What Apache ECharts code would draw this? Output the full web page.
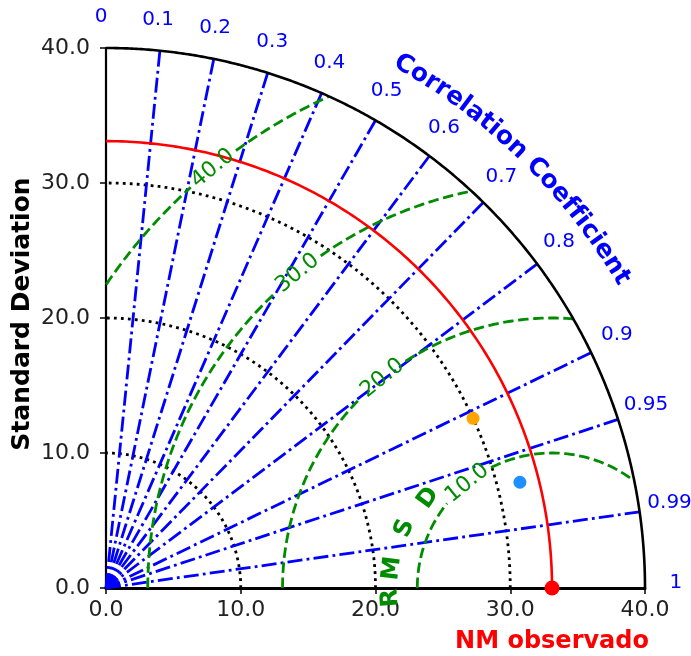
<!DOCTYPE html>
<html><head><meta charset="utf-8">
<script src="https://cdn.jsdelivr.net/npm/echarts@6/dist/echarts.min.js"></script>
<style>html,body{margin:0;padding:0;background:#fff}#c{width:691px;height:656px}</style>
</head><body><div id="c"></div>
<script>
// ---- data ----
const stdTicks = [0, 10, 20, 30, 40];
const stdMax = 40;
const stdArcs = [10, 20, 30];
const refStd = 33.1;
const refName = 'NM observado';
const corrLines = [0.1, 0.2, 0.3, 0.4, 0.5, 0.6, 0.7, 0.8, 0.9, 0.95, 0.99];
const corrLabelValues = [0, 0.1, 0.2, 0.3, 0.4, 0.5, 0.6, 0.7, 0.8, 0.9, 0.95, 0.99, 1];
const corrLabelTexts = ['0', '0.1', '0.2', '0.3', '0.4', '0.5', '0.6', '0.7', '0.8', '0.9', '0.95', '0.99', '1'];
const rmsdLevels = [10, 20, 30, 40];
const rmsdLabelTexts = ['10.0', '20.0', '30.0', '40.0'];
const modelStd = [30.0, 31.7];
const modelCorr = [0.908, 0.969];
const modelColors = ['#ffa500', '#1e90ff'];

// ---- helpers ----
const D = Math.PI / 180;
const GREEN = '#008c00';
function polar(r, deg) { return [r * Math.cos(deg * D), r * Math.sin(deg * D)]; }
function arcPts(r, a0, a1, step) {
  const pts = [];
  const n = Math.ceil(Math.abs(a1 - a0) / step);
  for (let i = 0; i <= n; i++) pts.push(polar(r, a0 + (a1 - a0) * i / n));
  return pts;
}
const chart = echarts.init(document.getElementById('c'), null, {renderer: 'canvas'});
const series = [];
const base = {type: 'line', symbol: 'none', silent: true, animation: false, clip: false, smooth: false};

// std dotted arcs
stdArcs.forEach(r => series.push(Object.assign({}, base, {
  data: arcPts(r, 0, 90, 0.5), z: 2,
  lineStyle: {color: '#000', width: 2.8, type: [2.8, 4.2]}
})));
// corr lines
corrLines.forEach(c => {
  const a = Math.acos(c) / D;
  series.push(Object.assign({}, base, {
    data: [[0, 0], polar(stdMax, a)], z: 3,
    lineStyle: {color: '#0000ff', width: 2.8, type: [15, 4.2, 2.8, 4.2]}
  }));
});
// RMSD arcs (green dashed), broken at label
const labelPhi = 129;
rmsdLevels.forEach((r, k) => {
  const halfGap = 2.1 / r / D; // degrees
  const segA = [], segB = [];
  for (let i = 0; i <= 1800; i++) {
    const phi = 180 - i * 0.1;
    const x = refStd + r * Math.cos(phi * D), y = r * Math.sin(phi * D);
    if (x < 0 || x * x + y * y > stdMax * stdMax) continue;
    if (phi > labelPhi + halfGap) segA.push([x, y]);
    else if (phi < labelPhi - halfGap) segB.push([x, y]);
  }
  [segA, segB].forEach(s => { if (s.length > 1) series.push(Object.assign({}, base, {
    data: s, z: 4, lineStyle: {color: GREEN, width: 2.8, type: [10.5, 4.6]}
  })); });
});
// reference arc
series.push(Object.assign({}, base, {data: arcPts(refStd, 0, 90, 0.5), z: 5, lineStyle: {color: '#ff0000', width: 2.6}}));
// outer arc
series.push(Object.assign({}, base, {data: arcPts(stdMax, 0, 90, 0.25), z: 5, lineStyle: {color: '#000', width: 2.6}}));
// models
series.push({type: 'scatter', silent: true, animation: false, z: 10, symbolSize: 13,
  data: modelStd.map((s, i) => ({value: polar(s, Math.acos(modelCorr[i]) / D), itemStyle: {color: modelColors[i], opacity: 1}}))});
series.push({type: 'scatter', silent: true, animation: false, z: 10, symbolSize: 15, clip: false,
  data: [[refStd, 0]], itemStyle: {color: '#ff0000', opacity: 1}});

// text helper series
function textSeries(items, style) {
  return {type: 'scatter', silent: true, animation: false, clip: false, z: 12, symbolSize: 0.1,
    itemStyle: {color: 'transparent'},
    label: Object.assign({show: true, position: 'inside', align: 'center', verticalAlign: 'middle',
      textBorderWidth: 0, opacity: 1, fontFamily: 'DejaVu Sans', formatter: p => p.data.t}, style),
    data: items.map(it => ({value: it.v, t: it.t, label: {rotate: it.rot || 0}}))};
}
// corr labels
series.push(textSeries(corrLabelValues.map((c, i) => ({v: polar(42.3, Math.acos(c) / D + 0.5), t: corrLabelTexts[i]})),
  {color: '#0000ff', fontSize: 20}));
// RMSD labels
series.push(textSeries(rmsdLevels.map((r, i) => ({v: [refStd + r * Math.cos(labelPhi * D), r * Math.sin(labelPhi * D)], t: rmsdLabelTexts[i], rot: labelPhi - 90})),
  {color: GREEN, fontSize: 22}));
// RMSD letters
const rmsdWord = ['R', 'M', 'S', 'D'];
const rmsdPhi = [183.5, 173, 158, 144];
const rmsdRad = [12.0, 11.95, 11.8, 11.35];
series.push(textSeries(rmsdWord.map((ch, i) => ({v: [refStd + rmsdRad[i] * Math.cos(rmsdPhi[i] * D), rmsdRad[i] * Math.sin(rmsdPhi[i] * D)], t: ch, rot: rmsdPhi[i] - 90})),
  {color: GREEN, fontSize: 24, fontWeight: 'bold'}));
// Correlation Coefficient curved
const ccText = 'Correlation Coefficient';
const ccFont = 'bold 25px "DejaVu Sans"';
const cv = document.createElement('canvas').getContext('2d');
cv.font = ccFont;
const widths = ccText.split('').map(ch => cv.measureText(ch).width);
const tot = widths.reduce((a, b) => a + b, 0);
const natural = tot - widths[0] / 2 - widths[widths.length - 1] / 2;
const ccR = 44.6, ccA0 = 60.3, ccA1 = 31.0;
const rPx = ccR * 13.48;
const spanPx = (ccA0 - ccA1) * D * rPx;
const fac = spanPx / natural;
let acc = 0;
const ccItems = [];
ccText.split('').forEach((ch, i) => {
  const center = acc + widths[i] / 2 - widths[0] / 2;
  acc += widths[i];
  const ang = ccA0 - (center * fac / rPx) / D;
  if (ch !== ' ') ccItems.push({v: polar(ccR, ang), t: ch, rot: ang - 90});
});
series.push(textSeries(ccItems, {color: '#0000ff', fontSize: 25, fontWeight: 'bold'}));

const axisCommon = {
  type: 'value', min: 0, max: 40, interval: 10,
  axisLine: {show: true, lineStyle: {color: '#000', width: 3}},
  axisTick: {show: true, length: 6, lineStyle: {color: '#000', width: 1.5}},
  splitLine: {show: false},
  axisLabel: {color: '#222', fontSize: 22, fontFamily: 'DejaVu Sans', formatter: v => v.toFixed(1)}
};
chart.setOption({
  animation: false,
  grid: {left: 106, right: 46, top: 48, bottom: 68, containLabel: false},
  xAxis: Object.assign({}, axisCommon, {axisLabel: Object.assign({}, axisCommon.axisLabel, {margin: 11})}),
  yAxis: Object.assign({}, axisCommon, {axisLine: {show: true, lineStyle: {color: '#000', width: 2.2}}, axisLabel: Object.assign({}, axisCommon.axisLabel, {margin: 16})}),
  series: series
});
const refPx = chart.convertToPixel({gridIndex: 0}, [refStd, 0]);
const midY = chart.convertToPixel({gridIndex: 0}, [0, 20]);
chart.setOption({graphic: [
  {type: 'text', x: 22, y: midY[1] - 4, rotation: Math.PI / 2, style: {text: 'Standard Deviation', fill: '#000', font: 'bold 25px "DejaVu Sans"', align: 'center', verticalAlign: 'middle'}},
  {type: 'text', x: refPx[0], y: 642, style: {text: refName, fill: '#ff0000', font: 'bold 24px "DejaVu Sans"', align: 'center', verticalAlign: 'middle'}}
]});
</script></body></html>
